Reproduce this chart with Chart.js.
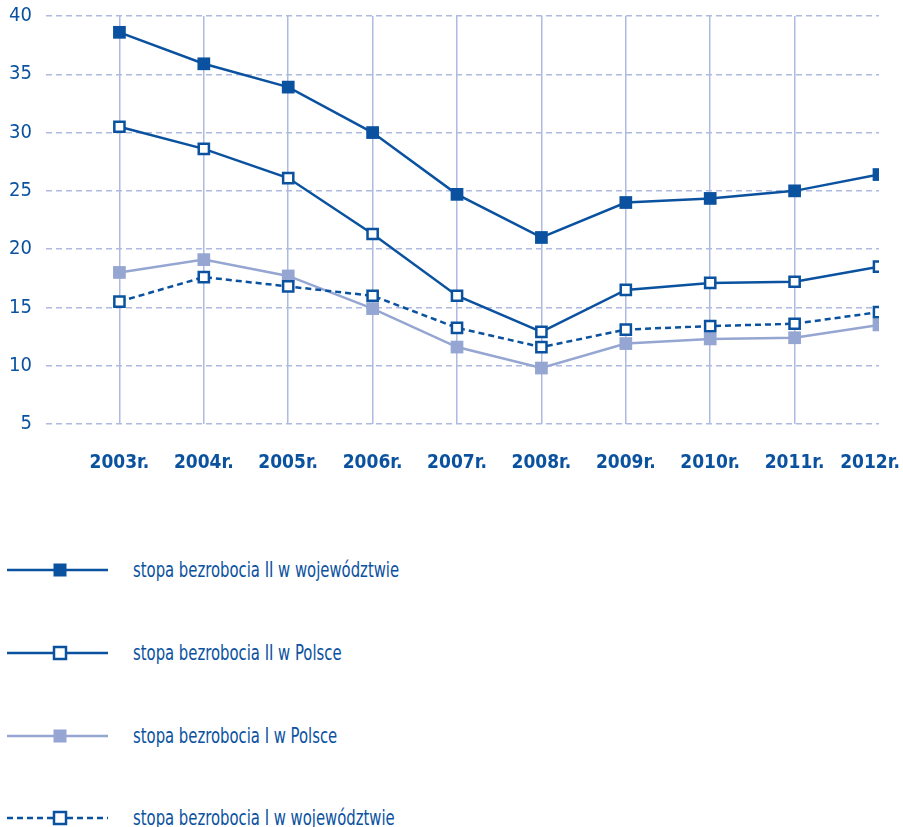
<!DOCTYPE html>
<html>
<head>
<meta charset="utf-8">
<script src="https://cdn.jsdelivr.net/npm/chart.js@4/dist/chart.umd.min.js"></script>
<style>
  html, body { margin: 0; padding: 0; background: #fff; }
  body { width: 903px; height: 827px; position: relative; overflow: hidden;
         font-family: 'DejaVu Sans Condensed', 'Liberation Sans Narrow', sans-serif; }
  #wrap { position: absolute; left: 0; top: 0; width: 903px; height: 500px; }
  .leg { position: absolute; left: 0; height: 30px; width: 600px; }
  .leg svg { position: absolute; left: 0; top: 0; }
  .leg span { position: absolute; left: 133px; top: 0; line-height: 30px; font-size: 22px; color: #0a529f;
              white-space: nowrap; transform: scaleX(0.75); transform-origin: 0 50%; }
</style>
</head>
<body>
<div id="wrap"><canvas id="c" width="903" height="500"></canvas></div>
<div id="legend"></div>
<script>
const years = [2003, 2004, 2005, 2006, 2007, 2008, 2009, 2010, 2011, 2012];
const xLabels = ["2003r.", "2004r.", "2005r.", "2006r.", "2007r.", "2008r.", "2009r.", "2010r.", "2011r.", "2012r."];
const seriesNames = [
  "stopa bezrobocia II w województwie",
  "stopa bezrobocia II w Polsce",
  "stopa bezrobocia I w Polsce",
  "stopa bezrobocia I w województwie"
];
const woj2 = [38.6, 35.9, 33.9, 30.0, 24.7, 21.0, 24.0, 24.35, 25.0, 26.4];
const pol2 = [30.5, 28.6, 26.1, 21.3, 16.0, 12.9, 16.5, 17.1, 17.2, 18.5];
const pol1 = [18.0, 19.1, 17.7, 14.9, 11.6, 9.8, 11.9, 12.3, 12.4, 13.5];
const woj1 = [15.5, 17.6, 16.8, 16.0, 13.25, 11.6, 13.1, 13.4, 13.6, 14.6];
const yTicks = [5, 10, 15, 20, 25, 30, 35, 40];

const DARK = '#0a529f';
const LIGHT = '#94a6d1';
const GRID = '#aebae0';
const FONT = "'DejaVu Sans Condensed', 'Liberation Sans Narrow', sans-serif";

const pts = arr => arr.map((v, i) => ({ x: years[i], y: v }));

const styles = [
  { color: DARK, fill: DARK, dash: [], r: 9, bw: 0, line: 2.5 },
  { color: DARK, fill: '#ffffff', dash: [], r: 7.2, bw: 2.5, line: 2.5 },
  { color: LIGHT, fill: LIGHT, dash: [], r: 9, bw: 0, line: 2.5 },
  { color: DARK, fill: '#ffffff', dash: [6, 4], r: 7.2, bw: 2.5, line: 2.5 }
];
const values = [woj2, pol2, pol1, woj1];
const orders = [1, 2, 4, 3];

const datasets = values.map((v, i) => ({
  label: seriesNames[i],
  data: pts(v),
  borderColor: styles[i].color,
  borderWidth: styles[i].line,
  borderDash: styles[i].dash,
  pointStyle: 'rect',
  pointRadius: styles[i].r,
  pointHoverRadius: styles[i].r,
  pointBackgroundColor: styles[i].fill,
  pointBorderColor: styles[i].color,
  pointBorderWidth: styles[i].bw,
  tension: 0,
  order: orders[i]
}));

new Chart(document.getElementById('c'), {
  type: 'line',
  data: { datasets },
  options: {
    responsive: false,
    animation: false,
    layout: { padding: { top: 16, right: 24, left: 0, bottom: 0 } },
    plugins: { legend: { display: false }, tooltip: { enabled: false } },
    scales: {
      x: {
        type: 'linear',
        min: 2002.13,
        max: 2012,
        afterBuildTicks: axis => { axis.ticks = years.map(v => ({ value: v })); },
        afterFit: axis => { axis.height = 76; axis.paddingLeft = 0; axis.paddingRight = 0; },
        border: { display: false },
        grid: {
          color: ctx => (ctx.tick && ctx.tick.value === 2012) ? 'rgba(0,0,0,0)' : GRID,
          lineWidth: 1.5, drawTicks: false
        },
        ticks: {
          padding: 28,
          maxRotation: 0,
          autoSkip: false,
          color: DARK,
          font: { family: FONT, size: 19, weight: 'bold' },
          callback: (v) => {
            const i = years.indexOf(v);
            if (i < 0) return '';
            return i === years.length - 1 ? xLabels[i] + '   ' : xLabels[i];
          }
        }
      },
      y: {
        min: 5,
        max: 40,
        afterBuildTicks: axis => { axis.ticks = yTicks.map(v => ({ value: v })); },
        afterFit: axis => { axis.width = 46; axis.paddingTop = 0; axis.paddingBottom = 0; },
        border: { display: false, dash: [6, 4] },
        grid: { color: GRID, lineWidth: 1.5, drawTicks: false },
        ticks: {
          padding: 14,
          color: DARK,
          font: { family: FONT, size: 20 }
        }
      }
    }
  }
});

// HTML legend
const legRows = [570, 653, 736, 818];
const leg = document.getElementById('legend');
seriesNames.forEach((name, i) => {
  const s = styles[i];
  const div = document.createElement('div');
  div.className = 'leg';
  div.style.top = (legRows[i] - 15) + 'px';
  const side = s.bw ? 12 : 13;
  const half = side / 2;
  const dash = s.dash.length ? `stroke-dasharray="${s.dash.join(' ')}"` : '';
  div.innerHTML = `<svg width="120" height="30">
    <line x1="7" y1="15" x2="108" y2="15" stroke="${s.color}" stroke-width="2.5" ${dash}/>
    <rect x="${60 - half}" y="${15 - half}" width="${side}" height="${side}" fill="${s.fill}" stroke="${s.bw ? s.color : 'none'}" stroke-width="${s.bw}"/>
  </svg><span>${name}</span>`;
  leg.appendChild(div);
});
</script>
</body>
</html>
